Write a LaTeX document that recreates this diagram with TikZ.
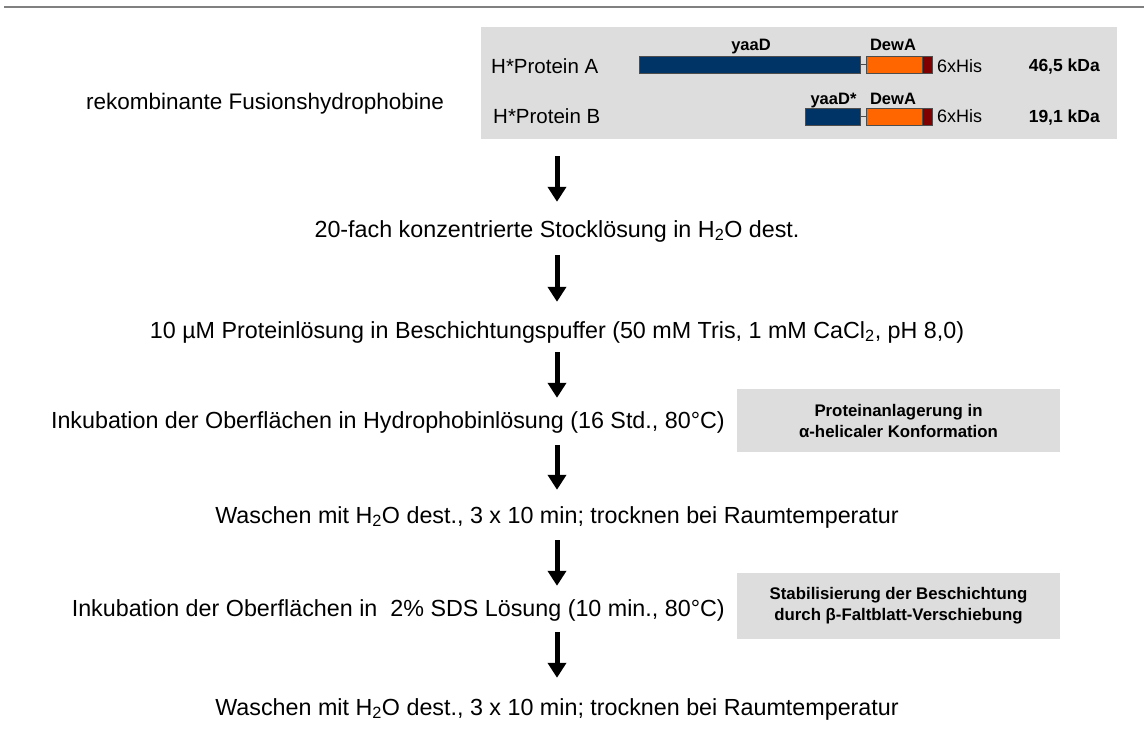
\documentclass[tikz,border=0pt]{standalone}
\usepackage{fontspec}
\setmainfont{Liberation Sans}
\usetikzlibrary{arrows.meta}
\definecolor{boxgray}{HTML}{DDDDDD}
\definecolor{navy}{HTML}{003366}
\definecolor{orng}{HTML}{FF6600}
\definecolor{dred}{HTML}{7F0000}
\definecolor{rulegray}{HTML}{808080}
\definecolor{edgegray}{HTML}{4D4D4D}
\begin{document}
\begin{tikzpicture}[x=1pt,y=-1pt,
  steptext/.style={inner sep=0pt,text height=17pt,text depth=5pt,font=\fontsize{23.3}{28}\selectfont},
  flow/.style={line width=5pt,-{Triangle[width=18pt,length=15pt]}},
  notebox/.style={fill=boxgray,minimum width=323pt,minimum height=63pt,inner sep=0pt,align=center,font=\bfseries\fontsize{16.8}{21}\selectfont},
  seg/.style={draw=edgegray,line width=0.8pt,inner sep=0pt,minimum height=17pt,anchor=west},
  rowlabel/.style={inner sep=0pt,anchor=base west,font=\fontsize{20.5}{24}\selectfont},
  domlabel/.style={inner sep=0pt,anchor=base,font=\bfseries\fontsize{16.5}{20}\selectfont},
  hislabel/.style={inner sep=0pt,anchor=base west,font=\fontsize{18}{22}\selectfont},
  kdalabel/.style={inner sep=0pt,anchor=base east,font=\bfseries\fontsize{17.5}{21}\selectfont}
]
\useasboundingbox (0,0) rectangle (1144,740);
% top rule
\draw[rulegray,line width=2pt] (4,6.5) -- (1144,6.5);
% protein panel
\node[fill=boxgray,minimum width=636pt,minimum height=112pt,inner sep=0pt,anchor=north west] (panel) at (481,27) {};
\node[rowlabel] (pa) at (491,73) {H*Protein A};
\node[rowlabel] (pb) at (493,123) {H*Protein B};
% bars row A
\node[seg,fill=navy,minimum width=221pt] (ba) at (639,64.5) {};
\node[seg,fill=orng,minimum width=56pt] (oa) at (866,64.5) {};
\node[seg,fill=dred,minimum width=10pt] (ra) at (922,64.5) {};
\draw[edgegray,line width=1pt] (ba.east) -- (oa.west);
% bars row B
\node[seg,fill=navy,minimum width=55pt] (bb) at (805,116.5) {};
\node[seg,fill=orng,minimum width=56pt] (ob) at (866,116.5) {};
\node[seg,fill=dred,minimum width=10pt] (rb) at (922,116.5) {};
\draw[edgegray,line width=1pt] (bb.east) -- (ob.west);
% domain labels
\node[domlabel] (ya) at (751,50) {yaaD};
\node[domlabel] (da) at (893,50) {DewA};
\node[domlabel] (yb) at (833.5,104) {yaaD*};
\node[domlabel] (db) at (893,104) {DewA};
\node[hislabel] (ha) at (937,72.5) {6xHis};
\node[hislabel] (hb) at (937,122.5) {6xHis};
\node[kdalabel] (ka) at (1100,71) {46,5 kDa};
\node[kdalabel] (kb) at (1100,122) {19,1 kDa};
% steps
\node[steptext,anchor=base west,font=\fontsize{22.5}{27}\selectfont] (t1) at (86,109) {rekombinante Fusionshydrophobine};
\coordinate (a0) at (557,156);
\node[steptext,anchor=base] (t2) at (557,237) {20-fach konzentrierte Stocklösung in H\textsubscript{2}O dest.};
\node[steptext,anchor=base] (t3) at (557,338) {10 µM Proteinlösung in Beschichtungspuffer (50 mM Tris, 1 mM CaCl\textsubscript{2}, pH 8,0)};
\node[steptext,anchor=base east] (t4) at (725,428) {Inkubation der Oberflächen in Hydrophobinlösung (16 Std., 80°C)};
\node[steptext,anchor=base] (t5) at (557,523) {Waschen mit H\textsubscript{2}O dest., 3 x 10 min; trocknen bei Raumtemperatur};
\node[steptext,anchor=base east] (t6) at (725,616) {Inkubation der Oberflächen in\ \ 2\% SDS Lösung (10 min., 80°C)};
\node[steptext,anchor=base] (t7) at (557,715) {Waschen mit H\textsubscript{2}O dest., 3 x 10 min; trocknen bei Raumtemperatur};
% side notes
\node[notebox] (n1) at (898.5,420.5) {Proteinanlagerung in\\α-helicaler Konformation};
\node[notebox,minimum height=66pt] (n2) at (898.5,606) {Stabilisierung der Beschichtung\\durch β-Faltblatt-Verschiebung};
% arrows
\draw[flow,shorten >=18pt] (a0) -- (t2.north);
\draw[flow,shorten <=13pt,shorten >=19pt] (t2.south) -- (t3.north);
\draw[flow,shorten <=9pt,shorten >=13pt] (t3.south) -- (t3.south |- t4.north);
\draw[flow,shorten <=12pt,shorten >=16pt] (t5.north |- t4.south) -- (t5.north);
\draw[flow,shorten <=12pt,shorten >=13pt] (t5.south) -- (t5.south |- t6.north);
\draw[flow,shorten <=11pt,shorten >=20pt] (t7.north |- t6.south) -- (t7.north);
\end{tikzpicture}
\end{document}
